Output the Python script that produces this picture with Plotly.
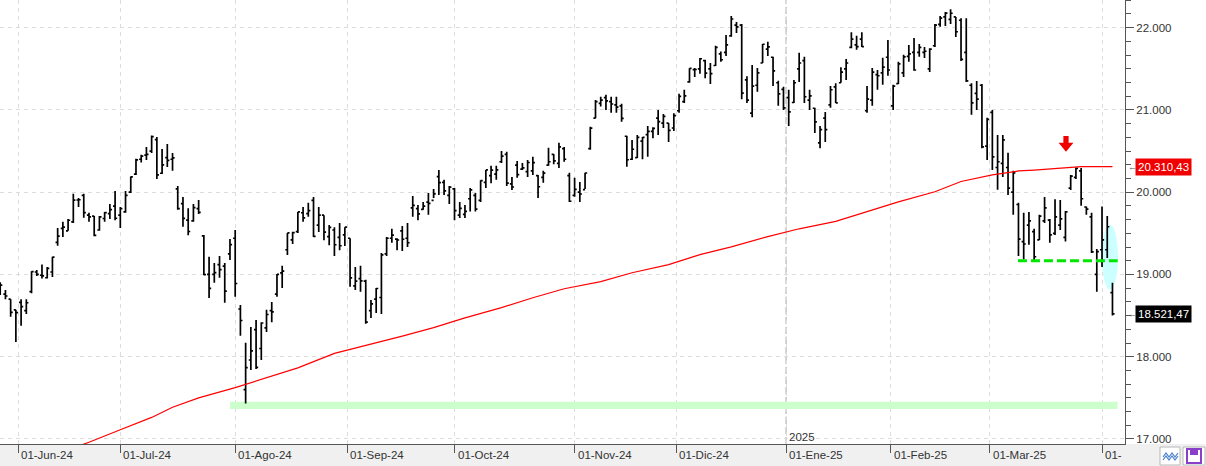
import plotly.graph_objects as go

# ---------------- data (daily OHLC) ----------------
dates = [
    "2024-05-28", "2024-05-29", "2024-05-30", "2024-05-31",
    "2024-06-03", "2024-06-04", "2024-06-05", "2024-06-06", "2024-06-07", "2024-06-10", "2024-06-11",
    "2024-06-12", "2024-06-13", "2024-06-14", "2024-06-17", "2024-06-18", "2024-06-20", "2024-06-21",
    "2024-06-24", "2024-06-25", "2024-06-26", "2024-06-27", "2024-06-28",
    "2024-07-01", "2024-07-02", "2024-07-03", "2024-07-05", "2024-07-08", "2024-07-09", "2024-07-10",
    "2024-07-11", "2024-07-12", "2024-07-15", "2024-07-16", "2024-07-17", "2024-07-18", "2024-07-19",
    "2024-07-22", "2024-07-23", "2024-07-24", "2024-07-25", "2024-07-26", "2024-07-29", "2024-07-30",
    "2024-07-31",
    "2024-08-01", "2024-08-02", "2024-08-05", "2024-08-06", "2024-08-07", "2024-08-08", "2024-08-09",
    "2024-08-12", "2024-08-13", "2024-08-14", "2024-08-15", "2024-08-16", "2024-08-19", "2024-08-20",
    "2024-08-21", "2024-08-22", "2024-08-23", "2024-08-26", "2024-08-27", "2024-08-28", "2024-08-29",
    "2024-08-30",
    "2024-09-03", "2024-09-04", "2024-09-05", "2024-09-06", "2024-09-09", "2024-09-10", "2024-09-11",
    "2024-09-12", "2024-09-13", "2024-09-16", "2024-09-17", "2024-09-18", "2024-09-19", "2024-09-20",
    "2024-09-23", "2024-09-24", "2024-09-25", "2024-09-26", "2024-09-27", "2024-09-30",
    "2024-10-01", "2024-10-02", "2024-10-03", "2024-10-04", "2024-10-07", "2024-10-08", "2024-10-09",
    "2024-10-10", "2024-10-11", "2024-10-14", "2024-10-15", "2024-10-16", "2024-10-17", "2024-10-18",
    "2024-10-21", "2024-10-22", "2024-10-23", "2024-10-24", "2024-10-25", "2024-10-28", "2024-10-29",
    "2024-10-30", "2024-10-31",
    "2024-11-01", "2024-11-04", "2024-11-05", "2024-11-06", "2024-11-07", "2024-11-08", "2024-11-11",
    "2024-11-12", "2024-11-13", "2024-11-14", "2024-11-15", "2024-11-18", "2024-11-19", "2024-11-20",
    "2024-11-21", "2024-11-22", "2024-11-25", "2024-11-26", "2024-11-27", "2024-11-29",
    "2024-12-02", "2024-12-03", "2024-12-04", "2024-12-05", "2024-12-06", "2024-12-09", "2024-12-10",
    "2024-12-11", "2024-12-12", "2024-12-13", "2024-12-16", "2024-12-17", "2024-12-18", "2024-12-19",
    "2024-12-20", "2024-12-23", "2024-12-24", "2024-12-26", "2024-12-27", "2024-12-30", "2024-12-31",
    "2025-01-02", "2025-01-03", "2025-01-06", "2025-01-07", "2025-01-08", "2025-01-10", "2025-01-13",
    "2025-01-14", "2025-01-15", "2025-01-16", "2025-01-17", "2025-01-21", "2025-01-22", "2025-01-23",
    "2025-01-24", "2025-01-27", "2025-01-28", "2025-01-29", "2025-01-30", "2025-01-31",
    "2025-02-03", "2025-02-04", "2025-02-05", "2025-02-06", "2025-02-07", "2025-02-10", "2025-02-11",
    "2025-02-12", "2025-02-13", "2025-02-14", "2025-02-18", "2025-02-19", "2025-02-20", "2025-02-21",
    "2025-02-24", "2025-02-25", "2025-02-26", "2025-02-27", "2025-02-28",
    "2025-03-03", "2025-03-04", "2025-03-05", "2025-03-06", "2025-03-07", "2025-03-10", "2025-03-11",
    "2025-03-12", "2025-03-13", "2025-03-14", "2025-03-17", "2025-03-18", "2025-03-19", "2025-03-20",
    "2025-03-21", "2025-03-24", "2025-03-25", "2025-03-26", "2025-03-27", "2025-03-28", "2025-03-31",
    "2025-04-01", "2025-04-02", "2025-04-03",
]

opens = [
    18870, 18760, 18700, 18570,
    18660, 18560, 18790, 19030, 18990, 18960, 19030, 19390, 19560, 19530, 19640, 19905, 19960, 19720,
    19710, 19540, 19680, 19740, 19830,
    19720, 19760, 20000, 20220, 20400, 20450, 20500, 20640, 20230, 20420, 20400, 20040, 19860, 19660,
    19650, 19800, 19470, 19000, 19000, 19120, 19100, 19250,
    19440, 18580, 17600, 17960, 18330, 18100, 18350, 18560, 18760, 19020, 19300, 19420, 19520, 19750,
    19740, 19900, 19600, 19720, 19460, 19540, 19450, 19480,
    19440, 18860, 18950, 18920, 18560, 18700, 18720, 19250, 19440, 19430, 19530, 19440, 19810, 19800,
    19790, 19880, 19900, 20190, 20120, 19960,
    20040, 19720, 19730, 19920, 19960, 19900, 20120, 20200, 20220, 20370, 20460, 20100, 20330, 20280,
    20250, 20260, 20200, 20180, 20330, 20460, 20350, 20530, 20200,
    19960, 20000, 20030, 20530, 20900, 21080, 21150, 21100, 21060, 21050, 20680, 20400, 20420, 20620,
    20700, 20740, 20900, 20840, 20840, 20780,
    20990, 21100, 21340, 21490, 21500, 21600, 21500, 21540, 21680, 21700, 21900, 22030, 22030, 21365,
    20960, 21300, 21570, 21740, 21640, 21330, 21250,
    21150, 21090, 21500, 21600, 21120, 21020, 20600, 20900, 21060, 21280, 21330, 21500, 21760, 21790,
    21860, 20990, 21120, 21430, 21450, 21640,
    21050, 21320, 21450, 21650, 21700, 21700, 21700, 21500, 21780, 22040, 22130, 22100, 22130, 22090,
    21700, 21300, 21200, 21300, 20560,
    20970, 20300, 20350, 20300, 20000, 19850, 19400, 19600, 19520, 19420, 19650, 19660, 19500, 19600,
    19450, 20050, 20180, 20260, 19820, 19700, 19000,
    19300, 19300, 18780,
]

highs = [
    18906, 18810, 18700, 18570,
    18700, 18700, 19040, 19055, 19120, 19090, 19215, 19566, 19640, 19675, 19980, 19930, 19980, 19750,
    19710, 19710, 19760, 19855, 20015,
    19820, 20015, 20190, 20405, 20455, 20550, 20690, 20670, 20525, 20585, 20475, 20075, 19940, 19805,
    19855, 19905, 19480, 19215, 19140, 19225, 19140, 19430,
    19540, 18630, 18170, 18360, 18445, 18420, 18570, 18665, 19005, 19105, 19505, 19520, 19760, 19820,
    19870, 19940, 19820, 19720, 19600, 19575, 19625, 19575,
    19440, 19090, 19105, 18935, 18690, 18835, 19260, 19455, 19555, 19440, 19590, 19625, 19955, 19845,
    19880, 19990, 20040, 20270, 20150, 20075,
    20050, 19880, 19845, 20050, 19990, 20145, 20270, 20320, 20320, 20500, 20490, 20185, 20380, 20355,
    20390, 20430, 20210, 20260, 20540, 20465, 20600, 20550, 20235,
    20175, 20125, 20235, 20795, 21120, 21160, 21185, 21160, 21160, 21075, 20685, 20635, 20695, 20670,
    20805, 20790, 21000, 20950, 20840, 20960,
    21195, 21245, 21505, 21510, 21630, 21610, 21570, 21780, 21710, 21910, 22140, 22070, 22045, 21410,
    21545, 21510, 21800, 21830, 21645, 21355, 21280,
    21245, 21365, 21695, 21645, 21245, 21025, 20805, 20975, 21290, 21325, 21520, 21620, 21945, 21900,
    21945, 21290, 21510, 21485, 21635, 21850,
    21305, 21585, 21670, 21790, 21875, 21800, 21765, 21750, 22045, 22140, 22190, 22225, 22130, 22115,
    22115, 21325, 21350, 21315, 20905,
    21000, 20695, 20695, 20480, 20260, 19870, 19750, 19760, 19555, 19725, 19940, 19675, 19915, 19905,
    19770, 20210, 20300, 20295, 19825, 19750, 19310,
    19825, 19710, 18900,
]

lows = [
    18750, 18700, 18485, 18180,
    18375, 18520, 18770, 18980, 18950, 18950, 18970, 19350, 19455, 19530, 19625, 19820, 19690, 19640,
    19465, 19530, 19640, 19675, 19660,
    19565, 19750, 19990, 20210, 20360, 20390, 20475, 20160, 20220, 20305, 20260, 19785, 19580, 19475,
    19640, 19735, 18990, 18715, 18900, 18960, 18655, 19175,
    18730, 18255, 17430, 17840, 17850, 17960, 18300, 18420, 18730, 18835, 19235, 19370, 19505, 19640,
    19700, 19455, 19515, 19415, 19355, 19225, 19295, 19345,
    18850, 18810, 18790, 18400, 18470, 18530, 18520, 19225, 19385, 19295, 19285, 19335, 19700, 19660,
    19785, 19725, 19930, 19965, 19965, 19855,
    19660, 19685, 19685, 19765, 19765, 19880, 20050, 20110, 20150, 20355, 20075, 20025, 20175, 20270,
    20185, 20210, 19930, 20115, 20320, 20340, 20295, 20370, 19880,
    19945, 19880, 20040, 20515, 20900, 21040, 21000, 20965, 20965, 20855, 20310, 20390, 20415, 20400,
    20430, 20655, 20695, 20780, 20610, 20745,
    20965, 21085, 21330, 21400, 21440, 21385, 21315, 21535, 21585, 21655, 21890, 21935, 21130, 21085,
    20910, 21220, 21570, 21655, 21290, 21050, 21000,
    20805, 21085, 21340, 21085, 21000, 20720, 20535, 20610, 21025, 21085, 21330, 21365, 21750, 21730,
    21765, 20965, 21050, 21245, 21305, 21415,
    21000, 21315, 21400, 21585, 21475, 21645, 21630, 21460, 21765, 22010, 22020, 22045, 21885, 21595,
    21340, 20940, 21000, 20535, 20390,
    20270, 20030, 20185, 19965, 19725, 19225, 19185, 19360, 19175, 19420, 19625, 19385, 19480, 19540,
    19400, 20025, 20160, 19835, 19725, 19260, 18790,
    19090, 19200, 18500,
]

closes = [
    18869, 18738, 18538, 18536,
    18608, 18656, 19035, 19000, 18983, 19074, 19211, 19465, 19575, 19659, 19904, 19908, 19752, 19700,
    19474, 19701, 19752, 19789, 19683,
    19800, 19960, 20186, 20392, 20439, 20459, 20676, 20211, 20331, 20386, 20418, 19799, 19682, 19522,
    19812, 19754, 18997, 18830, 19023, 19059, 18797, 19362,
    18890, 18440, 17867, 18070, 17870, 18410, 18513, 18545, 19000, 19040, 19505, 19508, 19760, 19688,
    19775, 19463, 19720, 19515, 19573, 19361, 19349, 19575,
    18959, 18920, 18922, 18421, 18642, 18829, 19239, 19440, 19479, 19419, 19428, 19385, 19839, 19736,
    19830, 19865, 19980, 20115, 20015, 20061,
    19776, 19802, 19767, 20028, 19794, 20141, 20270, 20269, 20272, 20439, 20110, 20063, 20214, 20295,
    20361, 20360, 20066, 20231, 20370, 20380, 20551, 20400, 19890,
    20033, 19978, 20233, 20779, 21101, 21118, 21109, 21072, 21035, 20897, 20394, 20522, 20667, 20667,
    20740, 20776, 20858, 20922, 20752, 20930,
    21164, 21171, 21504, 21491, 21622, 21448, 21441, 21760, 21610, 21790, 22105, 22010, 21205, 21120,
    21290, 21450, 21798, 21765, 21475, 21195, 21025,
    20975, 21330, 21570, 21160, 21170, 20855, 20760, 20760, 21245, 21085, 21460, 21570, 21860, 21770,
    21770, 21130, 21460, 21415, 21520, 21485,
    21290, 21560, 21645, 21680, 21485, 21759, 21713, 21740, 22031, 22115, 22176, 22175, 21950, 21614,
    21353, 21085, 21130, 20550, 20884,
    20430, 20370, 20635, 20050, 20235, 19430, 19370, 19650, 19215, 19710, 19810, 19480, 19700, 19675,
    19760, 20195, 20290, 19920, 19795, 19275, 19278,
    19420, 19580, 18521.47,
]

# 200-session moving average
ma_dates = [
    "2024-06-18", "2024-06-21", "2024-07-01", "2024-07-10", "2024-07-16", "2024-07-23", "2024-08-01",
    "2024-08-09", "2024-08-19", "2024-08-28", "2024-09-06", "2024-09-17", "2024-09-25", "2024-10-03",
    "2024-10-14", "2024-10-22", "2024-10-30", "2024-11-08", "2024-11-18", "2024-11-27", "2024-12-06",
    "2024-12-16", "2024-12-26", "2025-01-06", "2025-01-16", "2025-01-27", "2025-02-04", "2025-02-13",
    "2025-02-21", "2025-03-03", "2025-03-10", "2025-03-13", "2025-03-20", "2025-03-26", "2025-04-02",
    "2025-04-03",
]
ma_values = [
    16915, 16960, 17113, 17262, 17385, 17500, 17625,
    17744, 17865, 18040, 18135, 18250, 18353, 18472,
    18597, 18717, 18826, 18912, 19021, 19120, 19240,
    19336, 19460, 19555, 19645, 19762, 19882, 20005,
    20130, 20210, 20258, 20268, 20292, 20310, 20312,
    20310.43,
]

month_labels = ["01-Jun-24", "01-Jul-24", "01-Ago-24", "01-Sep-24", "01-Oct-24", "01-Nov-24",
                "01-Dic-24", "01-Ene-25", "01-Feb-25", "01-Mar-25", "01-"]
price_levels = [17000, 18000, 19000, 20000, 21000, 22000]
price_labels = ["17.000", "18.000", "19.000", "20.000", "21.000", "22.000"]

support_low = 17364      # light green band (August low zone)
support_high = 17453
range_floor = 19166      # green dashed line (March lows)
last_ma = 20310.43
last_close = 18521.47

# ---------------- derived positions ----------------
xi = list(range(len(dates)))
idx_of = {d: i for i, d in enumerate(dates)}

month_pos = []
prev_month = dates[0][:7]
for i, d in enumerate(dates):
    if d[:7] != prev_month:
        prev_month = d[:7]
        month_pos.append(i if d.endswith("-01") else i - 0.5)

ma_x = [idx_of[d] for d in ma_dates]
last_i = len(dates) - 1

FONT = "Liberation Sans, Arial, sans-serif"
fig = go.Figure()

fig.add_trace(go.Ohlc(
    x=xi, open=opens, high=highs, low=lows, close=closes,
    increasing=dict(line=dict(color="#000000", width=1.7)),
    decreasing=dict(line=dict(color="#000000", width=1.7)),
    tickwidth=0.4, hoverinfo="skip", showlegend=False,
))

fig.add_trace(go.Scatter(
    x=ma_x, y=ma_values, mode="lines",
    line=dict(color="#ff0000", width=1.2), hoverinfo="skip", showlegend=False,
))

shapes = []
# bottom grey band of the date axis
shapes.append(dict(type="rect", xref="paper", yref="paper", x0=0, x1=1206 / 1125,
                   y0=-22 / 444, y1=0, fillcolor="#f0f0f0", line=dict(width=0), layer="below"))
# stronger year-change gridline
jan_pos = month_pos[7]
shapes.append(dict(type="line", xref="x", yref="paper", x0=jan_pos, x1=jan_pos, y0=0, y1=1,
                   line=dict(color="#c4c4c4", width=1.5, dash="7px,3px"), layer="between"))
# light-blue ellipse around the last bars
shapes.append(dict(type="circle", xref="x", yref="y", x0=last_i - 2.0, x1=last_i + 1.05,
                   y0=18814, y1=19603, fillcolor="#ccffff", line=dict(width=0), layer="between"))
# green support band
shapes.append(dict(type="rect", xref="x", yref="y", x0=idx_of["2024-07-31"], x1=last_i + 1.0,
                   y0=support_low, y1=support_high, fillcolor="#ccffcc", line=dict(width=0),
                   layer="between"))
# green dashed range floor
shapes.append(dict(type="line", xref="x", yref="y", x0=idx_of["2025-03-10"] - 0.1, x1=last_i + 1.0,
                   y0=range_floor, y1=range_floor,
                   line=dict(color="#00e600", width=3, dash="9px,4px"), layer="above"))
# red down arrow above the test of the moving average
ax = idx_of["2025-03-21"] + 0.1
sw, hw = 0.5, 1.42
path = (f"M {ax - sw},20684 L {ax + sw},20684 L {ax + sw},20600 L {ax + hw},20600 "
        f"L {ax},20491 L {ax - hw},20600 L {ax - sw},20600 Z")
shapes.append(dict(type="path", xref="x", yref="y", path=path, fillcolor="#f00000",
                   line=dict(width=0), layer="above"))

# icons at the bottom right
shapes.append(dict(type="rect", xref="paper", yref="paper", x0=1160 / 1125, x1=1180 / 1125,
                   y0=-21 / 444, y1=-3 / 444, fillcolor="#ffffff", line=dict(color="#b8b8b8", width=1)))
zig = " ".join(
    [("M" if k == 0 else "L") + f" {px / 1125},{py / 444}" for k, (px, py) in enumerate(
        [(1163, -13), (1166, -9), (1169, -13), (1172, -9), (1175, -13), (1178, -9)])])
shapes.append(dict(type="path", xref="paper", yref="paper", path=zig,
                   line=dict(color="#4a7fd0", width=1.2)))
zig2 = " ".join(
    [("M" if k == 0 else "L") + f" {px / 1125},{py / 444}" for k, (px, py) in enumerate(
        [(1163, -16), (1166, -12), (1169, -16), (1172, -12), (1175, -16), (1178, -12)])])
shapes.append(dict(type="path", xref="paper", yref="paper", path=zig2,
                   line=dict(color="#4a7fd0", width=1.2)))
shapes.append(dict(type="rect", xref="paper", yref="paper", x0=1183 / 1125, x1=1205 / 1125,
                   y0=-21 / 444, y1=-3 / 444, fillcolor="#ffffff", line=dict(color="#b8b8b8", width=1)))
shapes.append(dict(type="rect", xref="paper", yref="paper", x0=1187 / 1125, x1=1201 / 1125,
                   y0=-19 / 444, y1=-5 / 444, fillcolor="#ffffff", line=dict(color="#8a3fc8", width=2)))
shapes.append(dict(type="rect", xref="paper", yref="paper", x0=1190 / 1125, x1=1198 / 1125,
                   y0=-11 / 444, y1=-5 / 444, fillcolor="#8a3fc8", line=dict(width=0)))

annotations = []
for pos, lab in zip(month_pos, month_labels):
    annotations.append(dict(x=pos, xref="x", y=-11 / 444, yref="paper", text=lab,
                            showarrow=False, xanchor="left", yanchor="middle", xshift=1,
                            font=dict(family=FONT, size=11.5, color="#333333")))
annotations.append(dict(x=jan_pos, xref="x", y=0, yref="paper", text="2025", showarrow=False,
                        xanchor="left", yanchor="bottom", xshift=1, yshift=-1,
                        font=dict(family=FONT, size=11.5, color="#333333")))
for val, bg in [(last_ma, "#f00000"), (last_close, "#000000")]:
    txt = f"{val:,.2f}".replace(",", "X").replace(".", ",").replace("X", ".")
    annotations.append(dict(x=1135 / 1125, xref="paper", y=val, yref="y", text=txt,
                            showarrow=False, xanchor="left", yanchor="middle", bgcolor=bg,
                            borderpad=2, font=dict(family=FONT, size=11.5, color="#ffffff")))
    annotations.append(dict(x=1126 / 1125, xref="paper", y=val, yref="y", text="←",
                            showarrow=False, xanchor="left", yanchor="middle",
                            font=dict(family=FONT, size=9, color="#555555")))

fig.update_layout(
    width=1206, height=466,
    margin=dict(l=0, r=81, t=0, b=22),
    paper_bgcolor="#ffffff", plot_bgcolor="#ffffff",
    showlegend=False,
    shapes=shapes, annotations=annotations,
    font=dict(family=FONT, size=11, color="#333333"),
    xaxis=dict(
        range=[-0.04, 215.4], rangeslider=dict(visible=False),
        tickmode="array", tickvals=month_pos, showticklabels=False,
        ticks="outside", ticklen=8, tickcolor="#555555",
        showgrid=True, gridcolor="#dcdcdc", griddash="4px,4px", gridwidth=1,
        showline=True, linecolor="#555555", linewidth=1, zeroline=False, fixedrange=True,
    ),
    yaxis=dict(
        side="right", range=[16939, 22336],
        tickmode="array", tickvals=price_levels, ticktext=price_labels,
        ticks="outside", ticklen=8, tickcolor="#555555",
        tickfont=dict(family=FONT, size=11.5, color="#333333"),
        showgrid=True, gridcolor="#dcdcdc", griddash="4px,4px", gridwidth=1,
        showline=True, linecolor="#555555", linewidth=1, zeroline=False,
        minor=dict(tickmode="linear", tick0=17000, dtick=1000 / 6, ticks="outside", ticklen=5,
                   tickcolor="#555555", showgrid=False),
    ),
)

fig.write_html("out.html")
